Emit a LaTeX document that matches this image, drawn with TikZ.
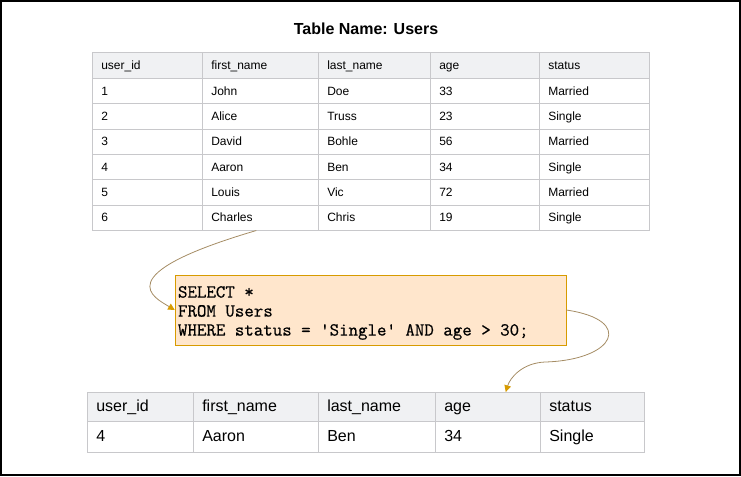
\documentclass[tikz,border=0pt]{standalone}
\usepackage{fontspec}
\setmainfont{Liberation Sans}
\newfontfamily\sqlfont{Latin Modern Mono}[FakeBold=0.6]
\usetikzlibrary{arrows.meta}
\definecolor{hdrgray}{RGB}{240,241,243}
\definecolor{linegray}{RGB}{200,200,203}
\definecolor{queryfill}{RGB}{255,230,204}
\definecolor{queryline}{RGB}{215,155,0}
\definecolor{flowline}{RGB}{165,140,100}
\begin{document}
\begin{tikzpicture}[x=0.75pt,y=-0.75pt,
  cell/.style={draw=linegray,anchor=north west,inner xsep=6.75pt,inner ysep=0pt,align=left},
  query/.style={draw=queryline,fill=queryfill,inner xsep=2.25pt,inner ysep=0pt,align=left,
    text width=288.75pt,minimum height=52.5pt,font=\sqlfont\fontsize{13.8}{14.25}\selectfont},
  flow/.style={draw=flowline,line width=0.6pt,-{Triangle[length=5pt,width=5pt,color=queryline]}}]
\useasboundingbox (0,0) rectangle (741,476);
\draw[line width=1.5pt] (1,1) rectangle (740,475);
\node[font=\bfseries\fontsize{12}{14}\selectfont] (title) at (366,29) {Table Name: Users};
\def\usersx{{92,202,318,430,539,649}}
\foreach \r/\row in {0/{user\_id,first\_name,last\_name,age,status},
    1/{1,John,Doe,33,Married},2/{2,Alice,Truss,23,Single},3/{3,David,Bohle,56,Married},
    4/{4,Aaron,Ben,34,Single},5/{5,Louis,Vic,72,Married},6/{6,Charles,Chris,19,Single}}{
  \foreach \t [count=\c] in \row {
    \pgfmathsetmacro\xa{\usersx[\c-1]}
    \pgfmathsetmacro\xb{\usersx[\c]}
    \pgfmathsetmacro\tw{(\xb-\xa)*0.75-13.5}
    \pgfmathsetmacro\ya{\r==0 ? 52 : 78+(\r-1)*25.33}
    \pgfmathsetmacro\ch{\r==0 ? 19.5 : 19}
    \ifnum\r=0 \def\cellfill{hdrgray}\else\def\cellfill{white}\fi
    \node[cell,fill=\cellfill,text width=\tw pt,minimum height=\ch pt,text height=7.4pt,text depth=1.2pt,
      font=\fontsize{9}{11}\selectfont] (users-\r-\c) at (\xa,\ya) {\t};
  }
}
\def\resultx{{87,193,318,435,540,644}}
\foreach \r/\row in {0/{user\_id,first\_name,last\_name,age,status},1/{4,Aaron,Ben,34,Single}}{
  \foreach \t [count=\c] in \row {
    \pgfmathsetmacro\xa{\resultx[\c-1]}
    \pgfmathsetmacro\xb{\resultx[\c]}
    \pgfmathsetmacro\tw{(\xb-\xa)*0.75-13.5}
    \pgfmathsetmacro\ya{\r==0 ? 392 : 421}
    \pgfmathsetmacro\ch{\r==0 ? 21.75 : 23.25}
    \ifnum\r=0 \def\cellfill{hdrgray}\else\def\cellfill{white}\fi
    \node[cell,fill=\cellfill,text width=\tw pt,minimum height=\ch pt,text height=10pt,text depth=2.2pt,
      font=\fontsize{12}{14}\selectfont] (result-\r-\c) at (\xa,\ya) {\t};
  }
}
\node[query] (query) at (370.5,310) {\spaceskip=0pt\relax\rule{0pt}{13pt}SELECT *\\FROM Users\\WHERE status = 'Single' AND age > 30;};
\draw[flow] ([xshift=-3pt]users-6-2.south) .. controls (105,275) and (155,298) .. (query.west);
\coordinate (drop) at ([xshift=13.5pt]result-0-4.north);
\draw[flow] (query.east) .. controls (635,320) and (615,360) .. (545,362)
  .. controls (522,363) and (510,378) .. (drop);
\end{tikzpicture}
\end{document}
